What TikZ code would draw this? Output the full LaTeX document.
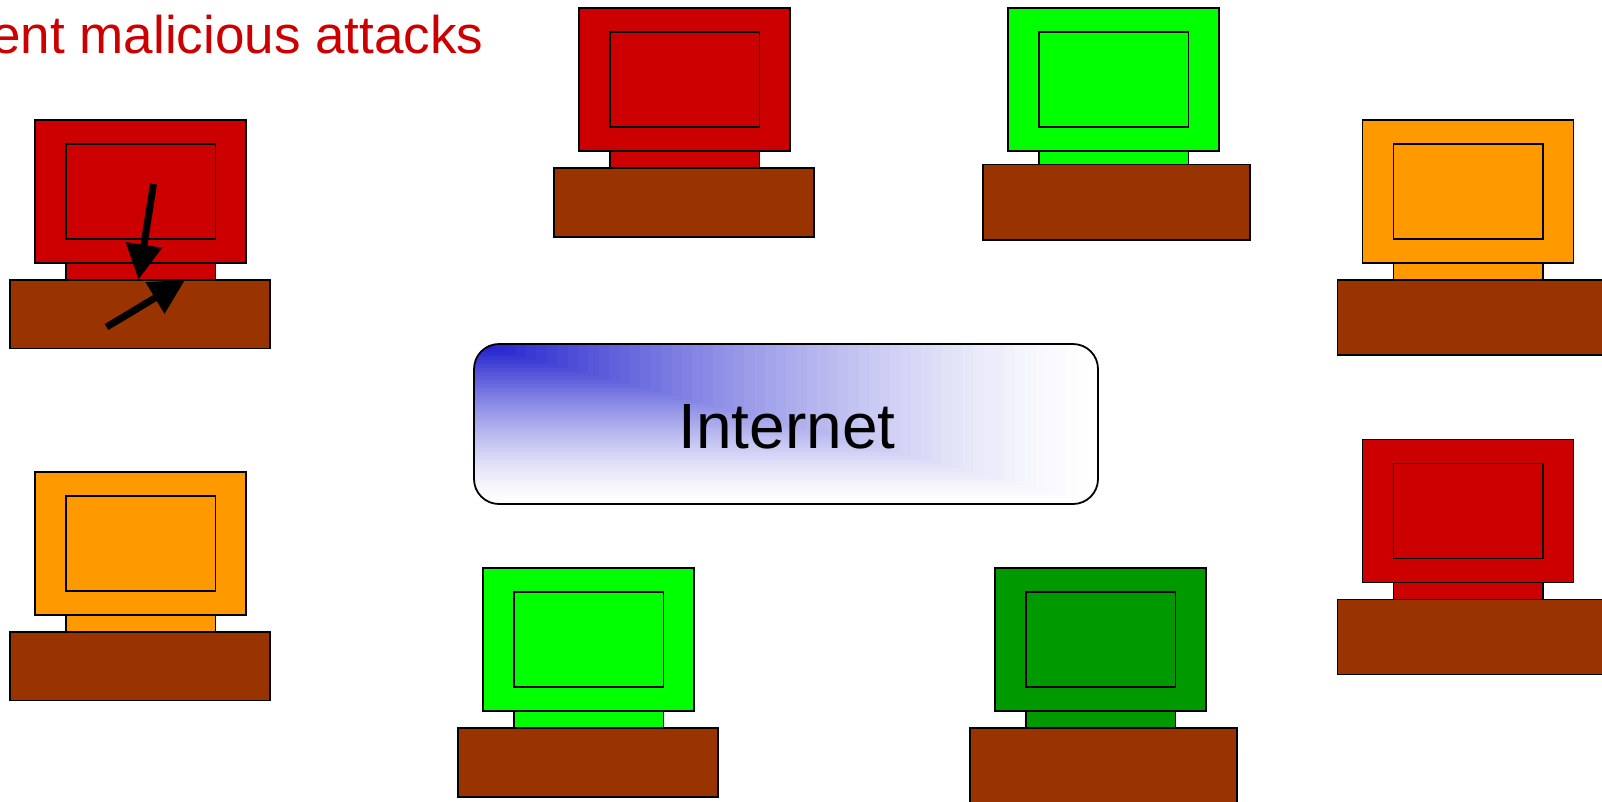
\documentclass[tikz,border=0pt]{standalone}
\usepackage{fontspec}
\setmainfont{Liberation Sans}
\usetikzlibrary{arrows.meta}
\definecolor{attackred}{HTML}{CC0000}
\definecolor{pcorange}{HTML}{FF9900}
\definecolor{pclime}{HTML}{00FF00}
\definecolor{pcgreen}{HTML}{009900}
\definecolor{deskbrown}{HTML}{993300}
\definecolor{netblue}{HTML}{1A1ACC}
\tikzset{
    pcpart/.style={draw=black,line width=1.8pt},
    attack/.style={line width=7pt,-{Triangle[length=35pt,width=35pt]}},
}
% x, y, colour, stand height, desk width, desk height
\newcommand{\computer}[6]{
    \draw[pcpart,fill=#3] (#1,#2) rectangle ++(211,143);
    \draw[pcpart] (#1+31,#2+24) rectangle ++(149.5,95);
    \draw[pcpart,fill=#3] (#1+31,#2+143) rectangle ++(149.5,#4);
    \draw[pcpart,fill=deskbrown] (#1-25,#2+143+#4) rectangle ++(#5,#6);
}
\begin{document}
\begin{tikzpicture}[x=1pt,y=-1pt]
    \clip (0,0) rectangle (1602,801);
    \computer{35}{120}{attackred}{17}{260}{68.5}
    \computer{35}{472}{pcorange}{17}{260}{68.5}
    \computer{579}{8}{attackred}{17}{260}{69}
    \computer{1008}{8}{pclime}{13.5}{267}{75.5}
    \computer{1362.5}{120}{pcorange}{17}{267}{75}
    \computer{1362.5}{439.5}{attackred}{17}{267}{75}
    \computer{483}{568}{pclime}{17}{260}{69}
    \computer{995}{568}{pcgreen}{17}{267}{75}
    \begin{scope}
        \clip[rounded corners=25pt] (474,344) rectangle (1098,504);
        \fill[white] (474,344) rectangle (1098,504);
        \foreach \t in {60,59,...,1}{
            \pgfmathsetmacro{\mixval}{100*(1.001-\t/60)^1.4}
            \fill[netblue!\mixval!white] (474,344) rectangle ++(10.4*\t,2.6667*\t);
        }
    \end{scope}
    \draw[line width=1.8pt,rounded corners=25pt] (474,344) rectangle (1098,504);
    \node[font=\fontsize{64}{70}\selectfont] (internet) at (787,426.5) {Internet};
    \node[font=\fontsize{53}{60}\selectfont,text=attackred,anchor=base east,inner sep=0pt] (title) at (483.5,53) {ent malicious attacks};
    \coordinate (hitA) at (153.5,184);
    \coordinate (hitB) at (138.5,279.5);
    \coordinate (hitC) at (106.5,327);
    \coordinate (hitD) at (185,280);
    \draw[attack] (hitA) -- (hitB);
    \draw[attack] (hitC) -- (hitD);
\end{tikzpicture}
\end{document}
